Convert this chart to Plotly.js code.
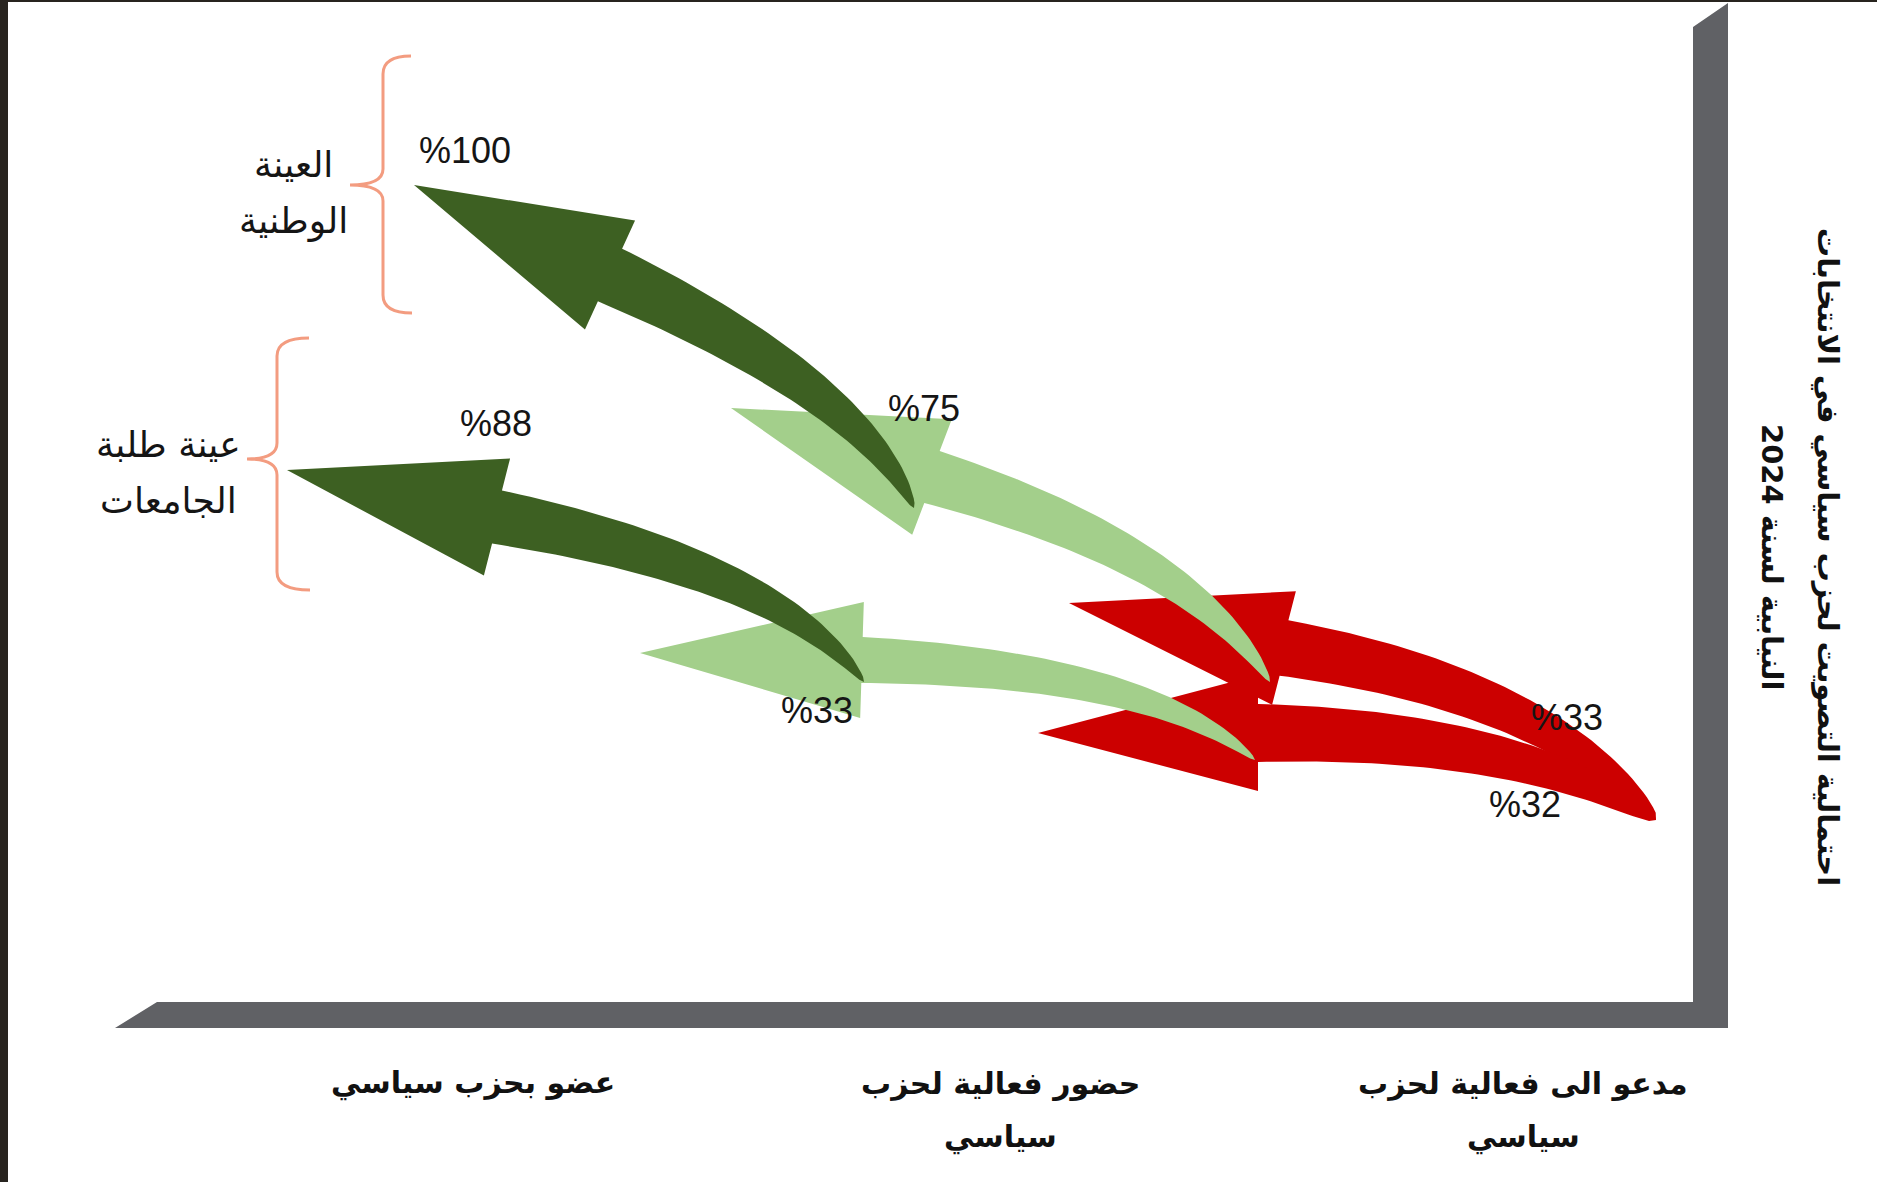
<!DOCTYPE html>
<html><head><meta charset="utf-8">
<script src="https://cdn.plot.ly/plotly-3.0.1.min.js"></script>
<style>html,body{margin:0;padding:0;background:#fff;overflow:hidden}#chart{width:1877px;height:1182px}</style>
</head><body><div id="chart"></div>
<script>
// ---------------- data ----------------
const categories = ['عضو بحزب سياسي', 'حضور فعالية لحزب سياسي', 'مدعو الى فعالية لحزب سياسي'];
const samples = ['العينة الوطنية', 'عينة طلبة الجامعات'];
const nationalValues = [100, 75, 33];
const studentValues = [88, 33, 32];
const axisTitleLines = ['احتمالية التصويت لحزب سياسي في الانتخابات', 'النيابية لسنة 2024'];

// ---------------- layout / geometry (schematic drawing space) ----------------
const W = 1877, H = 1182;
const seriesValues = [nationalValues, studentValues];
const categoryColors = ['#3d6022', '#a3cf8b', '#cc0000'];
const taperPower = [0.6, 0.6, 0.45];
const categoryX = [473, 1000, 1523];
const categoryLineY = [1083, 1137];
const sampleLabelPos = [[293, 164, 221], [168, 444, 500]];
const valueLabelPos = [
  [[465, 150], [924, 408], [1567, 717]],
  [[496, 423], [817, 710], [1525, 804]]
];
const arrowGeom = [
  [ {tail:[914,508], ctrl:[863,391], neck:[610,275], tip:[414,185], nw:29, hw:60},
    {tail:[1270,682], ctrl:[1195,555], neck:[932,477], tip:[731,408], nw:27, hw:61},
    {tail:[1656,820], ctrl:[1548,690], neck:[1284,648], tip:[1069,603], nw:28, hw:58} ],
  [ {tail:[864,682], ctrl:[782,570], neck:[497,517], tip:[287,470], nw:27, hw:60},
    {tail:[1255,760], ctrl:[1152,669], neck:[862,660], tip:[640,653], nw:23, hw:58},
    {tail:[1656,820], ctrl:[1521,733], neck:[1258,733], tip:[1038,733], nw:29, hw:58} ]
];
const braces = [
  {x:383, top:56, mid:185, bottom:313, beak:350, hookTop:411, hookBottom:412},
  {x:277, top:338, mid:459, bottom:590, beak:247, hookTop:309, hookBottom:310}
];

function bez(g, u) {
  const a = (1-u)*(1-u), b = 2*u*(1-u), c = u*u;
  return [a*g.tail[0]+b*g.ctrl[0]+c*g.neck[0], a*g.tail[1]+b*g.ctrl[1]+c*g.neck[1]];
}
function dbez(g, u) {
  return [2*(1-u)*(g.ctrl[0]-g.tail[0]) + 2*u*(g.neck[0]-g.ctrl[0]),
          2*(1-u)*(g.ctrl[1]-g.tail[1]) + 2*u*(g.neck[1]-g.ctrl[1])];
}
function arrowPolygon(g, pw) {
  const n = 60, A = [], B = [];
  for (let i = 0; i <= n; i++) {
    const u = i / n, p = bez(g, u), d = dbez(g, u);
    const L = Math.hypot(d[0], d[1]);
    const nx = -d[1] / L, ny = d[0] / L;
    const w = g.nw * Math.pow(u, pw);
    A.push([p[0] + nx*w, p[1] + ny*w]);
    B.push([p[0] - nx*w, p[1] - ny*w]);
  }
  const hx = g.tip[0]-g.neck[0], hy = g.tip[1]-g.neck[1], hl = Math.hypot(hx, hy);
  const px = -hy/hl, py = hx/hl;
  const pts = A.concat([[g.neck[0]+px*g.hw, g.neck[1]+py*g.hw], g.tip, [g.neck[0]-px*g.hw, g.neck[1]-py*g.hw]], B.reverse());
  pts.push(pts[0]);
  return pts;
}

const traces = [];
// draw order: invited (red), attended (light green), member (dark green)
[2, 1, 0].forEach(c => {
  [0, 1].forEach(s => {
    const pts = arrowPolygon(arrowGeom[s][c], taperPower[c]);
    traces.push({
      type: 'scatter', mode: 'lines', x: pts.map(p => p[0]), y: pts.map(p => p[1]),
      fill: 'toself', fillcolor: categoryColors[c], line: {width: 0, color: categoryColors[c]},
      hoverinfo: 'skip', name: samples[s] + ' - ' + categories[c]
    });
  });
});

const annotations = [];
const arFont = 'DejaVu Sans, sans-serif';
// value labels
seriesValues.forEach((vals, s) => {
  vals.forEach((v, c) => {
    annotations.push({x: valueLabelPos[s][c][0], y: valueLabelPos[s][c][1], xref: 'x', yref: 'y',
      text: '%' + v, showarrow: false, xanchor: 'center', yanchor: 'middle',
      font: {family: 'Liberation Sans Narrow, Liberation Sans, Arial, sans-serif', size: 36, color: '#151515'}});
  });
});
// category labels
categories.forEach((cat, i) => {
  const words = cat.split(' ');
  const lines = words.length > 3 ? [words.slice(0, -1).join(' '), words[words.length-1]] : [cat];
  lines.forEach((ln, k) => annotations.push({x: categoryX[i], y: categoryLineY[k], xref: 'x', yref: 'y',
    text: ln, showarrow: false, xanchor: 'center', yanchor: 'middle',
    font: {family: arFont, size: 30, color: '#111', weight: 700}}));
});
// sample labels
samples.forEach((sm, i) => {
  const words = sm.split(' ');
  const lines = [words.slice(0, -1).join(' '), words[words.length-1]];
  lines.forEach((ln, k) => annotations.push({x: sampleLabelPos[i][0], y: sampleLabelPos[i][1+k], xref: 'x', yref: 'y',
    text: ln, showarrow: false, xanchor: 'center', yanchor: 'middle',
    font: {family: arFont, size: 36, color: '#151515'}}));
});
// axis title (rotated)
const titleX = [1828, 1772];
axisTitleLines.forEach((ln, k) => annotations.push({x: titleX[k], y: 557, xref: 'x', yref: 'y',
  text: '\u202B' + ln + '\u202C', showarrow: false, xanchor: 'center', yanchor: 'middle', textangle: 90,
  font: {family: arFont, size: 29, color: '#111', weight: 700}}));

const shapes = [
  {type: 'rect', xref: 'x', yref: 'y', x0: 0, x1: 8, y0: 0, y1: H, fillcolor: '#28241f', line: {width: 0}, layer: 'below'},
  {type: 'rect', xref: 'x', yref: 'y', x0: 0, x1: W, y0: 0, y1: 2, fillcolor: '#28241f', line: {width: 0}, layer: 'below'},
  {type: 'path', xref: 'x', yref: 'y', path: 'M 115 1028 L 157 1002 L 1693 1002 L 1693 27 L 1728 3 L 1728 1028 Z',
   fillcolor: '#606165', line: {width: 0}, layer: 'below'}
];
braces.forEach(b => {
  const p = `M ${b.hookTop} ${b.top} Q ${b.x} ${b.top} ${b.x} ${b.top+18} L ${b.x} ${b.mid-16} Q ${b.x} ${b.mid} ${b.beak} ${b.mid} ` +
            `Q ${b.x} ${b.mid} ${b.x} ${b.mid+16} L ${b.x} ${b.bottom-18} Q ${b.x} ${b.bottom} ${b.hookBottom} ${b.bottom}`;
  shapes.push({type: 'path', xref: 'x', yref: 'y', path: p, line: {color: '#f39c80', width: 3}});
});

const layout = {
  width: W, height: H, margin: {l: 0, r: 0, t: 0, b: 0, pad: 0},
  paper_bgcolor: '#ffffff', plot_bgcolor: '#ffffff', showlegend: false,
  xaxis: {range: [0, W], visible: false, fixedrange: true},
  yaxis: {range: [H, 0], visible: false, fixedrange: true},
  shapes: shapes, annotations: annotations
};
Plotly.newPlot('chart', traces, layout, {staticPlot: true, displayModeBar: false});
</script>
</body></html>
